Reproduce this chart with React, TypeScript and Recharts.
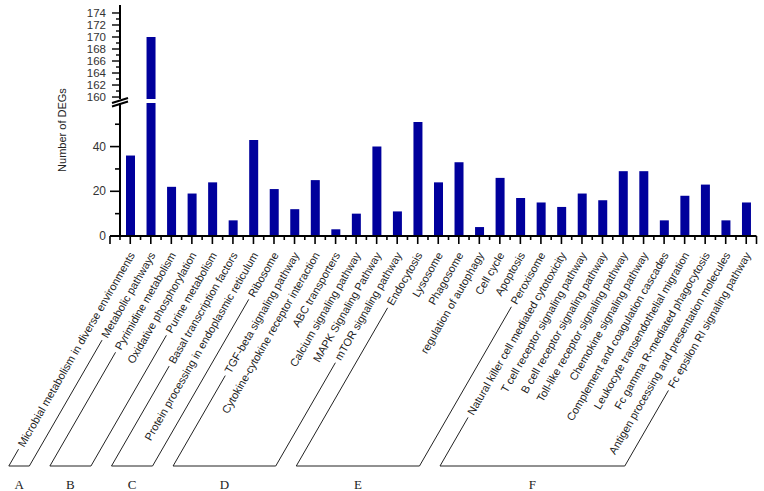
import React from "react";
import { BarChart, Bar, XAxis, YAxis } from "recharts";

const pathways = [
  "Microbial metabolism in diverse environments",
  "Metabolic pathways",
  "Pyrimidine metabolism",
  "Oxidative phosphorylation",
  "Purine metabolism",
  "Basal transcription factors",
  "Protein processing in endoplasmic reticulum",
  "Ribosome",
  "TGF-beta signaling pathway",
  "Cytokine-cytokine receptor interaction",
  "ABC transporters",
  "Calcium signaling pathway",
  "MAPK Signaling Pathway",
  "mTOR signaling pathway",
  "Endocytosis",
  "Lysosome",
  "Phagosome",
  "regulation of autophagy",
  "Cell cycle",
  "Apoptosis",
  "Peroxisome",
  "Natural killer cell mediated cytotoxicity",
  "T cell receptor signaling pathway",
  "B cell receptor signaling pathway",
  "Toll-like receptor signaling pathway",
  "Chemokine signaling pathway",
  "Complement and coagulation cascades",
  "Leukocyte transendothelial migration",
  "Fc gamma R-mediated phagocytosis",
  "Antigen processing and presentation molecules",
  "Fc epsilon RI signaling pathway",
];

const degCounts = [
  36, 170, 22, 19, 24, 7, 43, 21, 12, 25, 3, 10, 40, 11, 51, 24, 33, 4, 26, 17,
  15, 13, 19, 16, 29, 29, 7, 18, 23, 7, 15,
];

// KEGG groups: first / last pathway index of each bracket
const groupLetters = ["A", "B", "C", "D", "E", "F"];
const groupFirst = [0, 2, 5, 8, 14, 21];
const groupLast = [1, 4, 7, 13, 20, 30];

const lowerTicks = [0, 10, 20, 30, 40, 50];
const upperTicks = [160, 161, 162, 163, 164, 165, 166, 167, 168, 169, 170, 171, 172, 173, 174];

const data = pathways.map((name, i) => ({ name, count: degCounts[i] }));

const FONT = "Arial, 'Liberation Sans', sans-serif";
const W = 764;
const H = 491;
const ML = 60;
const YW = 60;
const MR = 7.5;
const STEP = (W - ML - YW - MR) / pathways.length;
const BRACKET_Y = 466;
const COS = 0.5;
const SIN = Math.sqrt(3) / 2;

let ctx: CanvasRenderingContext2D | null = null;
function textWidth(s: string) {
  if (!ctx) ctx = document.createElement("canvas").getContext("2d");
  if (!ctx) return s.length * 5.5;
  ctx.font = `11px ${FONT}`;
  return ctx.measureText(s).width;
}

// where the label's leader line starts and where it meets the bracket base
function leader(tickX: number, axisY: number, label: string) {
  const ex = tickX + 5;
  const ey = axisY + 19;
  const w = textWidth(label);
  const sx = ex - COS * w - SIN * 4 - COS * 4;
  const sy = ey + SIN * w - COS * 4 + SIN * 4;
  const bx = sx - (BRACKET_Y - sy) * (COS / SIN);
  return { ex, ey, sx, sy, bx };
}

function PathwayTick(props: any) {
  const { x, y, payload, index } = props;
  const label = String(payload.value);
  const L = leader(x, y, label);
  const gi = groupFirst.indexOf(index);
  const gl = groupLast.indexOf(index);
  const items: React.ReactNode[] = [];
  items.push(<line key="mj" x1={x} x2={x} y1={y} y2={y + 8} stroke="#000" strokeWidth={1.6} />);
  items.push(
    <line key="mn" x1={x - STEP / 2} x2={x - STEP / 2} y1={y} y2={y + 4} stroke="#000" strokeWidth={1.6} />
  );
  if (index === 0) {
    const sx = x - STEP / 2 - 10;
    items.push(<line key="stub" x1={sx} x2={x - STEP / 2} y1={y} y2={y} stroke="#000" strokeWidth={2} />);
    items.push(<line key="stubt" x1={sx} x2={sx} y1={y} y2={y + 8} stroke="#000" strokeWidth={1.6} />);
  }
  if (index === pathways.length - 1) {
    items.push(
      <line key="end" x1={x + STEP / 2} x2={x + STEP / 2} y1={y} y2={y + 8} stroke="#000" strokeWidth={1.6} />
    );
  }
  items.push(
    <text
      key="t"
      transform={`translate(${L.ex},${L.ey}) rotate(-60)`}
      textAnchor="end"
      fontSize={11}
      fontFamily={FONT}
      fill="#222"
    >
      {label}
    </text>
  );
  if (gi >= 0 || gl >= 0) {
    items.push(<line key="ld" x1={L.sx} y1={L.sy} x2={L.bx} y2={BRACKET_Y} stroke="#222" strokeWidth={1} />);
  }
  if (gl >= 0) {
    const first = groupFirst[gl];
    const fx = x - (index - first) * STEP;
    const F = leader(fx, y, pathways[first]);
    items.push(<line key="base" x1={F.bx} x2={L.bx} y1={BRACKET_Y} y2={BRACKET_Y} stroke="#222" strokeWidth={1} />);
    items.push(
      <text
        key="g"
        x={(F.bx + L.bx) / 2}
        y={489}
        textAnchor="middle"
        fontSize={13}
        fontFamily="'Liberation Serif', 'DejaVu Serif', serif"
        fill="#222"
      >
        {groupLetters[gl]}
      </text>
    );
  }
  return <g>{items}</g>;
}

function LowerTick({ x, y, payload }: any) {
  const v = payload.value;
  const major = v % 20 === 0;
  return (
    <g>
      <line x1={x - (major ? 10 : 5)} x2={x} y1={y} y2={y} stroke="#000" strokeWidth={1.6} />
      {major && (
        <text x={x - 14} y={y} dy="0.35em" textAnchor="end" fontSize={12} fontFamily={FONT} fill="#333">
          {v}
        </text>
      )}
    </g>
  );
}

function UpperTick({ x, y, payload }: any) {
  const v = payload.value;
  const major = v % 2 === 0;
  return (
    <g>
      <line x1={x - (major ? 8 : 4)} x2={x} y1={y} y2={y} stroke="#000" strokeWidth={1.4} />
      {major && (
        <text x={x - 14} y={y} dy="0.35em" textAnchor="end" fontSize={11.5} fontFamily={FONT} fill="#333">
          {v}
        </text>
      )}
    </g>
  );
}

export default function App() {
  return (
    <div style={{ position: "absolute", left: 0, top: 0, width: W, height: H, background: "#fff" }}>
      <div style={{ position: "absolute", left: 0, top: 0 }}>
        <BarChart width={W} height={H} data={data} margin={{ top: 103, right: MR, bottom: 0, left: ML }}>
          <XAxis
            dataKey="name"
            interval={0}
            height={255}
            tickLine={false}
            tickSize={0}
            tickMargin={0}
            axisLine={{ stroke: "#000", strokeWidth: 2 }}
            tick={<PathwayTick />}
          />
          <YAxis
            width={YW}
            domain={[0, 59.5]}
            ticks={lowerTicks}
            interval={0}
            allowDataOverflow
            tickLine={false}
            tickSize={0}
            tickMargin={0}
            axisLine={{ stroke: "#000", strokeWidth: 2 }}
            tick={<LowerTick />}
          />
          <Bar dataKey="count" fill="#00009c" barSize={9} isAnimationActive={false} />
        </BarChart>
      </div>
      <div style={{ position: "absolute", left: 0, top: 0 }}>
        <BarChart width={W} height={110} data={data} margin={{ top: 5, right: MR, bottom: 11, left: ML }}>
          <XAxis dataKey="name" hide />
          <YAxis
            width={YW}
            domain={[159.67, 175.33]}
            ticks={upperTicks}
            interval={0}
            allowDataOverflow
            tickLine={false}
            tickSize={0}
            tickMargin={0}
            axisLine={{ stroke: "#000", strokeWidth: 2 }}
            tick={<UpperTick />}
          />
          <Bar dataKey="count" fill="#00009c" barSize={9} isAnimationActive={false} />
        </BarChart>
      </div>
      <svg width={W} height={H} style={{ position: "absolute", left: 0, top: 0, pointerEvents: "none" }}>
        <line x1={112} y1={103} x2={128} y2={98} stroke="#000" strokeWidth={2} />
        <line x1={112} y1={106.5} x2={128} y2={101.5} stroke="#000" strokeWidth={2} />
        <text
          transform="translate(66,130) rotate(-90)"
          textAnchor="middle"
          fontSize={11}
          fontFamily={FONT}
          fill="#222"
        >
          Number of DEGs
        </text>
      </svg>
    </div>
  );
}
